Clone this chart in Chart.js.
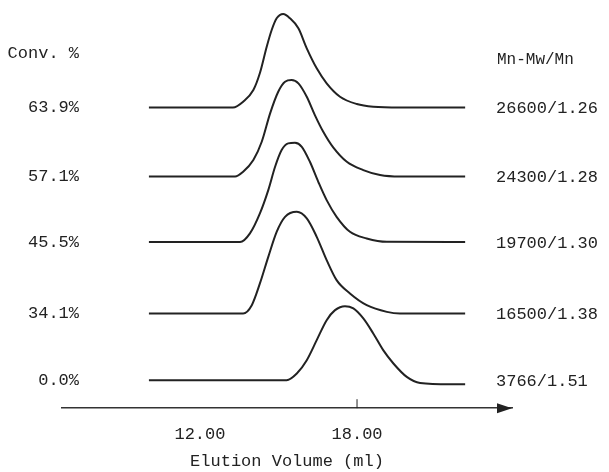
<!DOCTYPE html>
<html>
<head>
<meta charset="utf-8">
<script src="https://cdn.jsdelivr.net/npm/chart.js@4.4.1/dist/chart.umd.min.js"></script>
<style>
    html, body { margin: 0; padding: 0; background: #ffffff; }
    #wrap { width: 609px; height: 472px; }
</style>
</head>
<body>
<div id="wrap"><canvas id="gpcChart"></canvas></div>
<script>
// elution volume (ml) and detector response
const volume1 = [10.05, 13.26, 13.65, 14.04, 14.29, 14.55, 14.74, 14.93, 15.18, 15.44, 15.76, 16.08, 16.46, 16.84, 17.35, 17.99, 18.62, 19.64, 22.13];
const signal1 = [0, 0, 5.8, 17.5, 34.5, 60.8, 77.5, 89.2, 93.5, 89.2, 79.2, 59.2, 39.2, 24.2, 10.8, 3.5, 0.8, 0, 0];

const volume2 = [10.05, 13.34, 13.65, 14.04, 14.36, 14.68, 14.99, 15.25, 15.50, 15.76, 16.08, 16.39, 16.71, 17.09, 17.61, 18.24, 18.88, 19.64, 22.13];
const signal2 = [0, 0, 4.8, 16.5, 34.8, 63.2, 84.8, 94.8, 96.5, 93.2, 79.8, 61.5, 44.8, 29.2, 14.8, 6.5, 1.5, 0, 0];

const volume3 = [10.05, 13.53, 13.91, 14.29, 14.61, 14.87, 15.12, 15.37, 15.63, 15.89, 16.20, 16.52, 16.84, 17.22, 17.73, 18.37, 19.14, 22.13];
const signal3 = [0, 0, 8.7, 28.7, 52, 75.3, 92, 98.7, 99.3, 95.3, 80.3, 60.3, 42, 25.3, 10.3, 3.7, 0.3, 0];

const volume4 = [10.05, 13.65, 13.98, 14.29, 14.61, 14.93, 15.25, 15.70, 16.08, 16.46, 16.84, 17.22, 17.73, 18.37, 19.14, 19.64, 22.13];
const signal4 = [0, 0, 8.3, 30, 56.6, 81.6, 96.6, 101.6, 95, 76.6, 53.3, 33.3, 20, 8.3, 1.6, 0, 0];

const volume5 = [10.05, 15.31, 15.70, 16.08, 16.46, 16.84, 17.16, 17.54, 17.86, 18.24, 18.62, 19.00, 19.39, 19.90, 20.41, 21.55, 22.13];
const signal5 = [0, 0, 6.7, 20, 40, 60, 70, 74, 71.7, 61.7, 46.7, 30, 16.7, 3.3, -2.7, -4, -4];

const conversions = ['63.9%', '57.1%', '45.5%', '34.1%', '0.0%'];
const molecularWeights = ['26600/1.26', '24300/1.28', '19700/1.30', '16500/1.38', '3766/1.51'];
const tickValues = [12, 18];

// vertical shift of each trace in the stack
const traceOffsets = [300.5, 231.5, 166, 94.7, 28];

const FONT = '"Liberation Mono", "DejaVu Sans Mono", monospace';
const INK = '#222222';

function buildTrace(volumes, signals, offset) {
    return volumes.map((v, i) => ({ x: v, y: signals[i] + offset }));
}

const traces = [
    [volume1, signal1],
    [volume2, signal2],
    [volume3, signal3],
    [volume4, signal4],
    [volume5, signal5]
];

const datasets = traces.map((t, i) => ({
    label: conversions[i],
    data: buildTrace(t[0], t[1], traceOffsets[i]),
    borderColor: INK,
    borderWidth: 2,
    pointRadius: 0,
    fill: false,
    cubicInterpolationMode: 'monotone'
}));

// side labels, arrow head and the single tick mark
const gpcDecor = {
    id: 'gpcDecor',
    afterDraw(chart) {
        const { ctx, chartArea } = chart;
        const xs = chart.scales.x;
        const ys = chart.scales.y;
        ctx.save();
        ctx.fillStyle = INK;
        ctx.textBaseline = 'middle';

        ctx.font = '17px ' + FONT;
        ctx.textAlign = 'right';
        ctx.fillText('Conv. %', 79, 53);
        conversions.forEach((c, i) => {
            ctx.fillText(c, 79, ys.getPixelForValue(traceOffsets[i]));
        });

        ctx.textAlign = 'left';
        molecularWeights.forEach((m, i) => {
            ctx.fillText(m, 496, ys.getPixelForValue(traceOffsets[i]) + 1);
        });
        ctx.font = '16px ' + FONT;
        ctx.fillText('Mn-Mw/Mn', 497, 60);

        const ay = chartArea.bottom;
        ctx.beginPath();
        ctx.moveTo(chartArea.right, ay);
        ctx.lineTo(chartArea.right - 15, ay - 5);
        ctx.lineTo(chartArea.right - 15, ay + 5);
        ctx.closePath();
        ctx.fill();

        const tx = xs.getPixelForValue(18);
        ctx.strokeStyle = INK;
        ctx.lineWidth = 1;
        ctx.beginPath();
        ctx.moveTo(tx, ay - 9);
        ctx.lineTo(tx, ay);
        ctx.stroke();
        ctx.restore();
    }
};

new Chart(document.getElementById('gpcChart'), {
    type: 'line',
    data: { datasets: datasets },
    plugins: [gpcDecor],
    options: {
        responsive: true,
        maintainAspectRatio: false,
        animation: false,
        layout: { padding: { left: 62, right: 97, top: 5, bottom: 0 } },
        plugins: {
            legend: { display: false },
            tooltip: { enabled: false }
        },
        scales: {
            x: {
                type: 'linear',
                min: 6.73,
                max: 23.92,
                grid: { display: false, drawTicks: false },
                border: { display: true, color: '#333333', width: 1.5 },
                afterBuildTicks: scale => {
                    scale.ticks = tickValues.map(v => ({ value: v }));
                },
                ticks: {
                    color: INK,
                    padding: 16,
                    maxRotation: 0,
                    font: { family: FONT, size: 17 },
                    callback: v => Number(v).toFixed(2)
                },
                title: {
                    display: true,
                    text: 'Elution Volume (ml)',
                    color: INK,
                    font: { family: FONT, size: 17 },
                    padding: { top: -9, bottom: 0 }
                }
            },
            y: {
                display: false,
                min: 0,
                max: 403
            }
        }
    }
});
</script>
</body>
</html>
